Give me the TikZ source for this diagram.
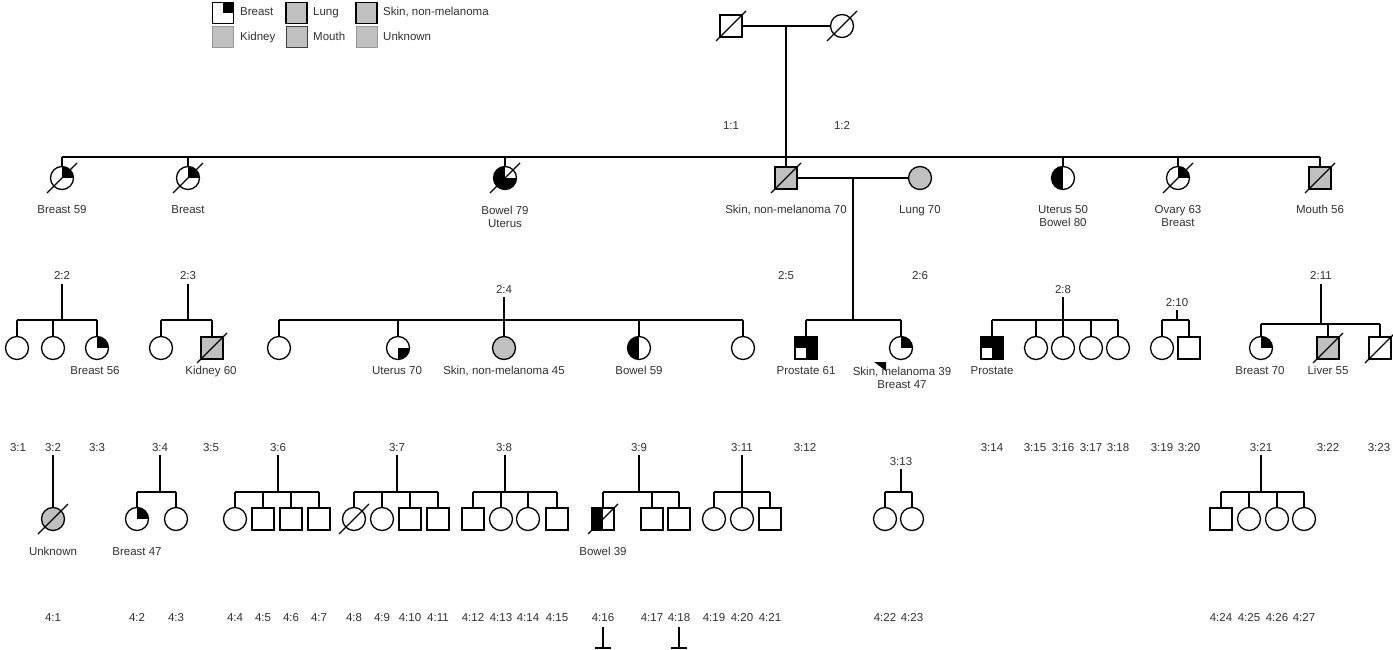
\documentclass[tikz,border=0pt]{standalone}
\usepackage{fontspec}
\setmainfont{Liberation Sans}
\begin{document}
\definecolor{pgray}{RGB}{192,192,192}
\definecolor{txt}{RGB}{50,50,50}
\begin{tikzpicture}[x=1pt,y=-1pt,
 ind/.style={draw=black, line width=1.3pt, inner sep=0pt, fill=white},
 male/.style={ind, rectangle, minimum size=22pt},
 female/.style={ind, circle, minimum size=23pt},
 affgray/.style={fill=pgray},
 qtr/.style={path picture={\fill[black] (path picture bounding box.center) rectangle (path picture bounding box.north east);}},
 qbr/.style={path picture={\fill[black] (path picture bounding box.center) rectangle (path picture bounding box.south east);}},
 hleft/.style={path picture={\fill[black] (path picture bounding box.north west) rectangle (path picture bounding box.south);}},
 bowut/.style={path picture={\fill[black] (path picture bounding box.north west) rectangle (path picture bounding box.south);
   \fill[black] (path picture bounding box.center) rectangle (path picture bounding box.south east);}},
 prost/.style={fill=black, path picture={\fill[white] (path picture bounding box.center) rectangle (path picture bounding box.south west);}},
 conn/.style={line width=1.6pt, black},
 dline/.style={line width=1.3pt, black},
 lab2/.style={font=\fontsize{11.5}{13}\selectfont, text=txt, inner sep=0pt, align=center},
 lab/.style={font=\fontsize{11.5}{13}\selectfont, text=txt, inner sep=0pt, text height=8.5pt, text depth=2.5pt},
 legbox/.style={rectangle, minimum size=21pt, inner sep=0pt, line width=1pt},
]
\newcommand{\deadmark}[1]{\draw[dline] ([shift={(-15,15)}]#1.center) -- ([shift={(15,-15)}]#1.center);}
\useasboundingbox[fill=white] (0,0) rectangle (1393,650);

% ---------- legend ----------
\node[legbox, draw=black, fill=white, qtr] (lg1) at (222.5,13) {};
\node[lab, anchor=west] (lt1) at (240,13) {Breast};
\node[legbox, draw=black, line width=1.6pt, fill=pgray] (lg2) at (296.5,13) {};
\node[lab, anchor=west] (lt2) at (313,13) {Lung};
\node[legbox, draw=black, line width=1.6pt, fill=pgray] (lg3) at (366.5,13) {};
\node[lab, anchor=west] (lt3) at (383,13) {Skin, non-melanoma};
\node[legbox, draw=gray!80, fill=pgray] (lg4) at (222.5,37.5) {};
\node[lab, anchor=west] (lt4) at (240,37.5) {Kidney};
\node[legbox, draw=black!75, fill=pgray] (lg5) at (296.5,37.5) {};
\node[lab, anchor=west] (lt5) at (313,37.5) {Mouth};
\node[legbox, draw=gray!80, fill=pgray] (lg6) at (366.5,37.5) {};
\node[lab, anchor=west] (lt6) at (383,37.5) {Unknown};

% ---------- generation 1 ----------
\node[male] (g1a) at (731,26) {};
\node[female] (g1b) at (842,26) {};
\deadmark{g1a}\deadmark{g1b}
\draw[conn] (g1a.east) -- (g1b.west);
\coordinate (m1) at (786,26);
\coordinate (s1) at (786,157);
\draw[conn] (m1) -- (s1);
\node[lab] (i11) at (731,127) {1:1};
\node[lab] (i12) at (842,127) {1:2};

% ---------- generation 2 ----------
\node[female, qtr] (g2a) at (62,178) {};
\node[female, qtr] (g2b) at (188,178) {};
\node[female, bowut] (g2c) at (505,178) {};
\node[male, affgray] (g2d) at (786,178) {};
\node[female, affgray] (g2e) at (920,178) {};
\node[female, hleft] (g2f) at (1063,178) {};
\node[female, qtr] (g2g) at (1178,178) {};
\node[male, affgray] (g2h) at (1320,178) {};
\deadmark{g2a}\deadmark{g2b}\deadmark{g2c}\deadmark{g2d}\deadmark{g2g}\deadmark{g2h}
\draw[conn] (s1 -| g2a) -- (s1 -| g2h);
\foreach \n in {g2a,g2b,g2c,g2d,g2f,g2g,g2h} \draw[conn] (s1 -| \n) -- (\n.north);
\draw[conn] (g2d.east) -- (g2e.west);
\coordinate (m2) at (853,178);

\node[lab] (l2a) at (62,210) {Breast 59};
\node[lab] (l2b) at (188,210) {Breast};
\node[lab2] (l2c) at (505,216.5) {Bowel 79\\Uterus};
\node[lab] (l2d) at (786,210) {Skin, non-melanoma 70};
\node[lab] (l2e) at (920,210) {Lung 70};
\node[lab2] (l2f) at (1063,216.5) {Uterus 50\\Bowel 80};
\node[lab2] (l2g) at (1178,216.5) {Ovary 63\\Breast};
\node[lab] (l2h) at (1320,210) {Mouth 56};

\node[lab] (i22) at (62,276) {2:2};
\node[lab] (i23) at (188,276) {2:3};
\node[lab] (i24) at (504,290) {2:4};
\node[lab] (i25) at (786,276) {2:5};
\node[lab] (i26) at (920,276) {2:6};
\node[lab] (i28) at (1063,290) {2:8};
\node[lab] (i210) at (1177,303) {2:10};
\node[lab] (i211) at (1321,276) {2:11};

% ---------- generation 3 ----------
\node[female] (c31) at (17,348) {};
\node[female] (c32) at (53,348) {};
\node[female, qtr] (c33) at (97,348) {};
\node[female] (c34) at (161,348) {};
\node[male, affgray] (c35) at (212,348) {};
\node[female] (c36) at (279,348) {};
\node[female, qbr] (c37) at (398,348) {};
\node[female, affgray] (c38) at (504,348) {};
\node[female, hleft] (c39) at (639,348) {};
\node[female] (c311) at (743,348) {};
\node[male, prost] (c312) at (806,348) {};
\node[female, qtr] (c313) at (901,348) {};
\node[male, prost] (c314) at (992,348) {};
\node[female] (c315) at (1036,348) {};
\node[female] (c316) at (1063,348) {};
\node[female] (c317) at (1091,348) {};
\node[female] (c318) at (1118,348) {};
\node[female] (c319) at (1162,348) {};
\node[male] (c320) at (1189,348) {};
\node[female, qtr] (c321) at (1261,348) {};
\node[male, affgray] (c322) at (1328,348) {};
\node[male] (c323) at (1380,348) {};
\deadmark{c35}\deadmark{c322}\deadmark{c323}
% proband arrow
\fill[black] ([shift={(-27,14)}]c313.center) -- ([shift={(-15,14)}]c313.center) -- ([shift={(-15,23)}]c313.center) -- cycle;

% sibship 2:2
\coordinate (t22) at (62,284); \coordinate (s22) at (62,320);
\draw[conn] (t22) -- (s22);
\draw[conn] (s22 -| c31) -- (s22 -| c33);
\foreach \n in {c31,c32,c33} \draw[conn] (s22 -| \n) -- (\n.north);
% sibship 2:3
\coordinate (t23) at (188,284); \coordinate (s23) at (188,320);
\draw[conn] (t23) -- (s23);
\draw[conn] (s23 -| c34) -- (s23 -| c35);
\foreach \n in {c34,c35} \draw[conn] (s23 -| \n) -- (\n.north);
% sibship 2:4
\coordinate (t24) at (504,297); \coordinate (s24) at (504,320);
\draw[conn] (t24) -- (s24);
\draw[conn] (s24 -| c36) -- (s24 -| c311);
\foreach \n in {c36,c37,c38,c39,c311} \draw[conn] (s24 -| \n) -- (\n.north);
% sibship 2:5 x 2:6
\coordinate (s25) at (853,320);
\draw[conn] (m2) -- (s25);
\draw[conn] (s25 -| c312) -- (s25 -| c313);
\foreach \n in {c312,c313} \draw[conn] (s25 -| \n) -- (\n.north);
% sibship 2:8
\coordinate (t28) at (1063,297); \coordinate (s28) at (1063,320);
\draw[conn] (t28) -- (s28);
\draw[conn] (s28 -| c314) -- (s28 -| c318);
\foreach \n in {c314,c315,c316,c317,c318} \draw[conn] (s28 -| \n) -- (\n.north);
% sibship 2:10
\coordinate (t210) at (1177,310); \coordinate (s210) at (1177,320);
\draw[conn] (t210) -- (s210);
\draw[conn] (s210 -| c319) -- (s210 -| c320);
\foreach \n in {c319,c320} \draw[conn] (s210 -| \n) -- (\n.north);
% sibship 2:11
\coordinate (t211) at (1321,284); \coordinate (s211) at (1321,324);
\draw[conn] (t211) -- (s211);
\draw[conn] (s211 -| c321) -- (s211 -| c323);
\foreach \n in {c321,c322,c323} \draw[conn] (s211 -| \n) -- (\n.north);

\node[lab] (l33) at (95,371) {Breast 56};
\node[lab] (l35) at (211,371) {Kidney 60};
\node[lab] (l37) at (397,371) {Uterus 70};
\node[lab] (l38) at (504,371) {Skin, non-melanoma 45};
\node[lab] (l39) at (639,371) {Bowel 59};
\node[lab] (l312) at (806,371) {Prostate 61};
\node[lab2] (l313) at (902,377.5) {Skin, melanoma 39\\Breast 47};
\node[lab] (l314) at (992,371) {Prostate};
\node[lab] (l321) at (1260,371) {Breast 70};
\node[lab] (l322) at (1328,371) {Liver 55};

\foreach \t/\x in {3:1/18,3:2/53,3:3/97,3:4/160,3:5/211,3:6/278,3:7/397,3:8/504,3:9/639,3:11/742,3:12/805,3:14/992,3:15/1035,3:16/1063,3:17/1091,3:18/1118,3:19/1162,3:20/1189,3:21/1261,3:22/1328,3:23/1379}
  \node[lab] (id\t) at (\x,448) {\t};
\node[lab] (i313) at (901,462) {3:13};

% ---------- generation 4 ----------
\node[female, affgray] (d41) at (53,519) {};
\node[female, qtr] (d42) at (137,519) {};
\node[female] (d43) at (176,519) {};
\node[female] (d44) at (235,519) {};
\node[male] (d45) at (263,519) {};
\node[male] (d46) at (291,519) {};
\node[male] (d47) at (319,519) {};
\node[female] (d48) at (354,519) {};
\node[female] (d49) at (382,519) {};
\node[male] (d410) at (410,519) {};
\node[male] (d411) at (438,519) {};
\node[male] (d412) at (473,519) {};
\node[female] (d413) at (501,519) {};
\node[female] (d414) at (528,519) {};
\node[male] (d415) at (557,519) {};
\node[male, hleft] (d416) at (603,519) {};
\node[male] (d417) at (652,519) {};
\node[male] (d418) at (679,519) {};
\node[female] (d419) at (714,519) {};
\node[female] (d420) at (742,519) {};
\node[male] (d421) at (770,519) {};
\node[female] (d422) at (885,519) {};
\node[female] (d423) at (912,519) {};
\node[male] (d424) at (1221,519) {};
\node[female] (d425) at (1249,519) {};
\node[female] (d426) at (1277,519) {};
\node[female] (d427) at (1304,519) {};
\deadmark{d41}\deadmark{d48}\deadmark{d416}

% sibship 3:2
\coordinate (t32) at (53,455);
\draw[conn] (t32) -- (d41.north);
% sibship 3:4
\coordinate (t34) at (160,455); \coordinate (s34) at (160,492);
\draw[conn] (t34) -- (s34);
\draw[conn] (s34 -| d42) -- (s34 -| d43);
\foreach \n in {d42,d43} \draw[conn] (s34 -| \n) -- (\n.north);
% sibship 3:6
\coordinate (t36) at (278,455); \coordinate (s36) at (278,492);
\draw[conn] (t36) -- (s36);
\draw[conn] (s36 -| d44) -- (s36 -| d47);
\foreach \n in {d44,d45,d46,d47} \draw[conn] (s36 -| \n) -- (\n.north);
% sibship 3:7
\coordinate (t37) at (397,455); \coordinate (s37) at (397,492);
\draw[conn] (t37) -- (s37);
\draw[conn] (s37 -| d48) -- (s37 -| d411);
\foreach \n in {d48,d49,d410,d411} \draw[conn] (s37 -| \n) -- (\n.north);
% sibship 3:8
\coordinate (t38) at (505,455); \coordinate (s38) at (505,492);
\draw[conn] (t38) -- (s38);
\draw[conn] (s38 -| d412) -- (s38 -| d415);
\foreach \n in {d412,d413,d414,d415} \draw[conn] (s38 -| \n) -- (\n.north);
% sibship 3:9
\coordinate (t39) at (639,455); \coordinate (s39) at (639,492);
\draw[conn] (t39) -- (s39);
\draw[conn] (s39 -| d416) -- (s39 -| d418);
\foreach \n in {d416,d417,d418} \draw[conn] (s39 -| \n) -- (\n.north);
% sibship 3:11
\coordinate (t311) at (742,455); \coordinate (s311) at (742,492);
\draw[conn] (t311) -- (s311);
\draw[conn] (s311 -| d419) -- (s311 -| d421);
\foreach \n in {d419,d420,d421} \draw[conn] (s311 -| \n) -- (\n.north);
% sibship 3:13
\coordinate (t313) at (901,469); \coordinate (s313) at (901,492);
\draw[conn] (t313) -- (s313);
\draw[conn] (s313 -| d422) -- (s313 -| d423);
\foreach \n in {d422,d423} \draw[conn] (s313 -| \n) -- (\n.north);
% sibship 3:21
\coordinate (t321) at (1261,455); \coordinate (s321) at (1261,492);
\draw[conn] (t321) -- (s321);
\draw[conn] (s321 -| d424) -- (s321 -| d427);
\foreach \n in {d424,d425,d426,d427} \draw[conn] (s321 -| \n) -- (\n.north);

\node[lab] (l41) at (53,552) {Unknown};
\node[lab] (l42) at (137,552) {Breast 47};
\node[lab] (l416) at (603,552) {Bowel 39};

\foreach \t/\x in {4:1/53,4:2/137,4:3/176,4:4/235,4:5/263,4:6/291,4:7/319,4:8/354,4:9/382,4:10/410,4:11/438,4:12/473,4:13/501,4:14/528,4:15/557,4:16/603,4:17/652,4:18/679,4:19/714,4:20/742,4:21/770,4:22/885,4:23/912,4:24/1221,4:25/1249,4:26/1277,4:27/1304}
  \node[lab] (id\t) at (\x,618) {\t};

% ---------- stubs at bottom ----------
\coordinate (u16t) at (603,627); \coordinate (u16b) at (603,648);
\draw[conn] (u16t) -- (u16b);
\draw[conn] ([xshift=-8pt]u16b) -- ([xshift=8pt]u16b);
\coordinate (u18t) at (679,627); \coordinate (u18b) at (679,648);
\draw[conn] (u18t) -- (u18b);
\draw[conn] ([xshift=-8pt]u18b) -- ([xshift=8pt]u18b);
\end{tikzpicture}
\end{document}
